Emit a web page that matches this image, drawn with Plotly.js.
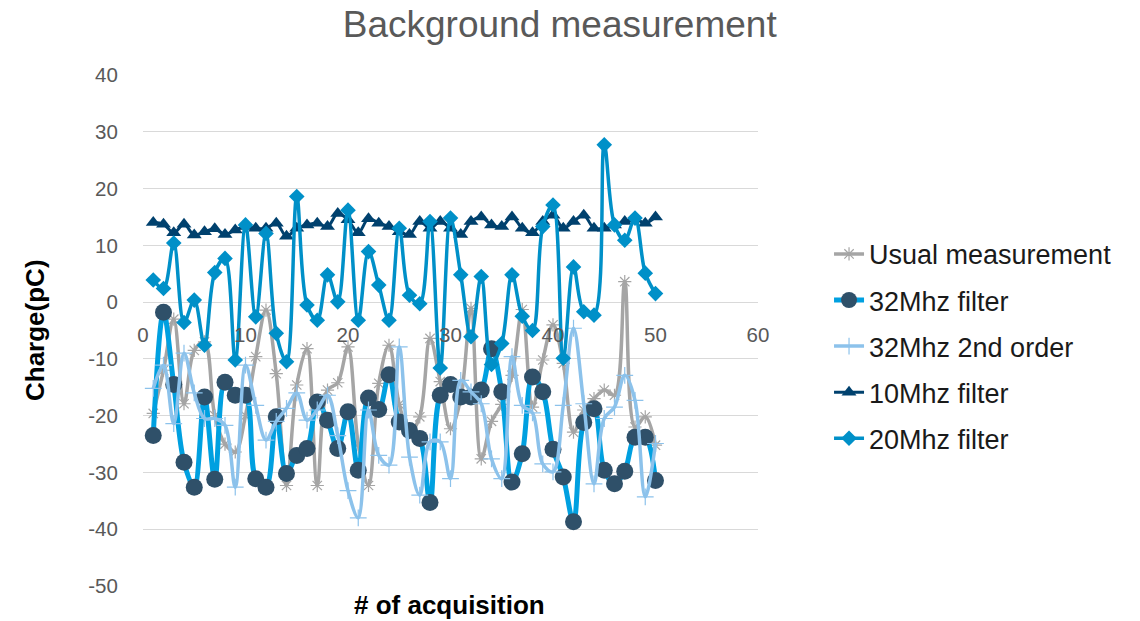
<!DOCTYPE html>
<html>
<head>
<meta charset="utf-8">
<script src="https://cdn.plot.ly/plotly-3.0.1.min.js"></script>
<style>html,body{margin:0;padding:0;background:#fff;}#chart{width:1140px;height:621px;}</style>
</head>
<body>
<div id="chart"></div>
<script>
// acquisition index 1..50
const acquisition = [1,2,3,4,5,6,7,8,9,10,11,12,13,14,15,16,17,18,19,20,21,22,23,24,25,26,27,28,29,30,31,32,33,34,35,36,37,38,39,40,41,42,43,44,45,46,47,48,49,50];

const usualMeasurement = [-19.6,-12,-3,-17.9,-8.5,-7,-20,-25,-26.4,-20,
  -9.6,-1.4,-12.6,-32.3,-14.6,-8.2,-32.3,-15.5,-14.2,-7.9,
  -25,-32.3,-14.3,-7.6,-18,-23,-20.2,-6.4,-14,-22.3,
  -17,-1.1,-27.6,-21,-18,-12.9,-1.3,-18.5,-10.2,-4,
  -10.8,-22.9,-19,-17,-15.5,-16.4,3.6,-22,-20.2,-25.2];

const filter32 = [-23.5,-1.8,-14.5,-28.2,-32.6,-16.7,-31.2,-14.1,-16.4,-16.4,
  -31.1,-32.6,-20.2,-30.2,-27,-25.8,-17.6,-20.8,-25.8,-19.3,
  -29.6,-16.9,-18.9,-12.8,-21.1,-22.6,-24,-35.3,-16.4,-14.5,
  -16.7,-16.7,-15.5,-8.2,-15.8,-31.7,-26.7,-13.2,-15.8,-25.9,
  -30.8,-38.7,-21.2,-18.8,-29.6,-32,-29.8,-23.8,-23.8,-31.4];

const filter32second = [-15.2,-11.1,-21.4,-9,-16,-20.5,-20.5,-21.7,-32.6,-11.1,
  -18.2,-24.3,-21,-18.7,-16,-20.8,-19,-16.4,-23.5,-33.2,
  -38,-19,-27,-28.7,-7.9,-27.3,-34,-24.6,-24.6,-31.1,
  -13.8,-15.8,-17.9,-27.6,-31.1,-9.6,-18.2,-19.5,-28.5,-29.9,
  -18.2,-4.6,-17.9,-32,-20.5,-18.5,-12.9,-17.3,-34.3,-24.9];

const filter10 = [14.0,13.7,12.2,13.7,11.8,12.4,12.9,11.9,12.7,13.3,
  13.0,13.0,13.9,11.6,13.0,13.6,13.9,13.3,15.6,14.5,
  12.2,14.7,13.9,13.3,12.4,11.9,14.2,13.0,14.2,13.0,
  11.9,14.2,15.0,13.6,13.3,15.0,13.0,12.2,14.2,15.3,
  13.0,14.2,15.3,13.0,13.0,13.6,14.2,14.7,13.9,15.0];

const filter20 = [3.9,2.4,10.4,-3.6,0.35,-7.6,5.2,7.7,-10.2,13.6,
  -2.6,12.1,-5.5,-10.5,18.6,-0.5,-3.2,4.8,0.05,16.2,
  -3.2,8.9,3,-3.2,13,1.2,-0.3,14.2,-11.6,14.8,
  4.8,-6.1,4.5,-11,-7.3,4.8,-2.5,-5,13.3,17.1,
  -9.9,6.2,-1.7,-2.3,27.7,13.6,10.9,14.8,5.1,1.5];

const seriesNames = ["Usual measurement","32Mhz filter","32Mhz 2nd order","10Mhz filter","20Mhz filter"];
const yTicks = [-50,-40,-30,-20,-10,0,10,20,30,40];
const xTicks = [0,10,20,30,40,50,60];

const traces = [
  {x: acquisition, y: usualMeasurement, name: seriesNames[0], legendgroup:'g1',
   mode:'lines+markers', line:{color:'#a5a5a5', width:3.5, shape:'spline', smoothing:1},
   marker:{symbol:'asterisk-open', size:11, color:'#a5a5a5', line:{color:'#a5a5a5', width:1.2}}},
  {x: acquisition, y: filter32, name: seriesNames[1], legendgroup:'g2',
   mode:'lines+markers', line:{color:'#00a0e0', width:5, shape:'spline', smoothing:1},
   marker:{symbol:'circle', size:17, color:'#2f5069', line:{width:0}}},
  {x: acquisition, y: filter32second, name: seriesNames[2], legendgroup:'g3',
   mode:'lines+markers', line:{color:'#8cc2eb', width:3.5, shape:'spline', smoothing:1},
   marker:{symbol:'cross-thin-open', size:12, color:'#8cc2eb', line:{color:'#8cc2eb', width:1.2}}},
  {x: acquisition, y: filter10, name: seriesNames[3], legendgroup:'g4',
   mode:'lines+markers', line:{color:'#00416e', width:3, shape:'spline', smoothing:1},
   marker:{symbol:'triangle-up', size:13, color:'#00416e', line:{width:0}}},
  {x: acquisition, y: filter20, name: seriesNames[4], legendgroup:'g5',
   mode:'lines+markers', line:{color:'#0090c8', width:3.5, shape:'spline', smoothing:1},
   marker:{symbol:'diamond', size:12, color:'#0090c8', line:{width:0}}}
];

const layout = {
  width:1140, height:621,
  margin:{l:143, r:382, t:75, b:35},
  paper_bgcolor:'#ffffff', plot_bgcolor:'#ffffff',
  font:{family:'Liberation Sans, Arial, sans-serif', color:'#595959'},
  title:{text:'Background measurement', font:{size:37, color:'#595959', family:'Liberation Sans, Arial, sans-serif'},
         xref:'container', x:0.491, xanchor:'center', yref:'container', y:0.962, yanchor:'middle'},
  xaxis:{range:[0,60], tickvals:xTicks, ticktext:xTicks.map(String), showgrid:false, zeroline:false,
         anchor:'free', position:50/90, showline:false,
         ticks:'outside', ticklen:14, tickcolor:'rgba(0,0,0,0)',
         tickfont:{size:20.5, color:'#595959'}},
  yaxis:{range:[-50,40], tickvals:yTicks, ticktext:yTicks.map(String), showgrid:true, gridcolor:'#d9d9d9', gridwidth:1,
         zeroline:false, showline:false, ticks:'outside', ticklen:20, tickcolor:'rgba(0,0,0,0)',
         tickfont:{size:20.5, color:'#595959'}},
  showlegend:true,
  legend:{x:1.1155, xanchor:'left', y:0.697, yanchor:'top', traceorder:'grouped', tracegroupgap:8,
          font:{size:27, color:'#1a1a1a'}, bgcolor:'rgba(0,0,0,0)'},
  annotations:[
    {text:'<b># of acquisition</b>', xref:'paper', yref:'paper', x:0.498, y:-0.037, xanchor:'center', yanchor:'middle',
     showarrow:false, font:{size:26, color:'#000000'}},
    {text:'<b>Charge(pC)</b>', xref:'paper', yref:'paper', x:-0.1756, y:0.501, xanchor:'center', yanchor:'middle',
     textangle:-90, showarrow:false, font:{size:26, color:'#000000'}}
  ]
};

Plotly.newPlot('chart', traces, layout, {displayModeBar:false, staticPlot:true});
</script>
</body>
</html>
